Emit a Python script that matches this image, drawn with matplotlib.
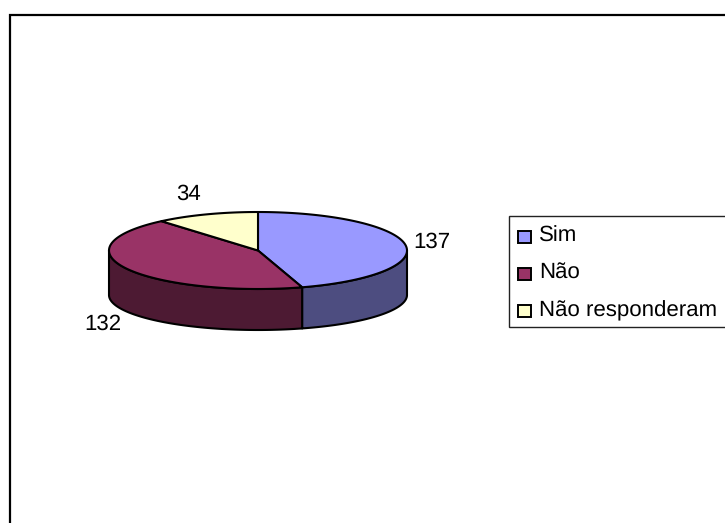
import numpy as np
import matplotlib
matplotlib.use("Agg")
import matplotlib.pyplot as plt
from matplotlib.patches import Polygon, Rectangle

categories = ["Sim", "Não", "Não responderam"]
values = [137, 132, 34]
value_labels = ["137", "132", "34"]
top_colors = ["#9999FF", "#993366", "#FFFFCC"]
side_colors = ["#4D4D80", "#4D1A33", "#80805F"]

plt.rcParams["font.family"] = ["Liberation Sans", "DejaVu Sans"]
plt.rcParams["text.hinting"] = "no_hinting"
W, H = 725, 523
fig = plt.figure(figsize=(W / 100, H / 100), dpi=100)
ax = fig.add_axes([0, 0, 1, 1])
ax.set_xlim(0, W)
ax.set_ylim(H, 0)
ax.axis("off")

cx, cy, rx, ry = 258, 250.5, 149, 38.5
by, bry = 295, 35


def top(a):
    return np.column_stack([cx + rx * np.sin(a), cy - ry * np.cos(a)])


def bottom(a):
    return np.column_stack([cx + rx * np.sin(a), by - bry * np.cos(a)])


edges = np.concatenate([[0], np.cumsum(values)]) / sum(values) * 2 * np.pi
lw = 1.5
# side walls (front half only)
for i in range(len(values)):
    lo, hi = max(edges[i], np.pi / 2), min(edges[i + 1], 3 * np.pi / 2)
    if lo >= hi:
        continue
    a = np.linspace(lo, hi, 120)
    pts = np.vstack([top(a), bottom(a)[::-1]])
    ax.add_patch(Polygon(pts, closed=True, fc=side_colors[i], ec="black", lw=lw, joinstyle="round"))
# top faces
for i in range(len(values)):
    a = np.linspace(edges[i], edges[i + 1], 200)
    pts = np.vstack([[[cx, cy]], top(a)])
    ax.add_patch(Polygon(pts, closed=True, fc=top_colors[i], ec="black", lw=lw, joinstyle="round"))

fs = 16
label_pos = [(432, 248), (103, 330), (189, 200)]
for t, (x, y) in zip(value_labels, label_pos):
    ax.text(x, y, t, fontsize=fs, ha="center", va="baseline", color="black")

# outer frame
ax.plot([10.5, 10.5, W + 5], [H + 5, 15, 15], color="black", lw=1.6, solid_joinstyle="miter", clip_on=True)

# legend box
ax.add_patch(Rectangle((509.5, 216), 240, 111, fc="white", ec="#222222", lw=1.0, clip_on=True))
rows = [242, 279, 316]
for name, c, y in zip(categories, top_colors, rows):
    ax.add_patch(Rectangle((518.5, y - 11), 13, 11.5, fc=c, ec="black", lw=1.4))
    ax.text(539, y, name, fontsize=fs, ha="left", va="baseline", color="black")

fig.savefig("out.png", dpi=100)
